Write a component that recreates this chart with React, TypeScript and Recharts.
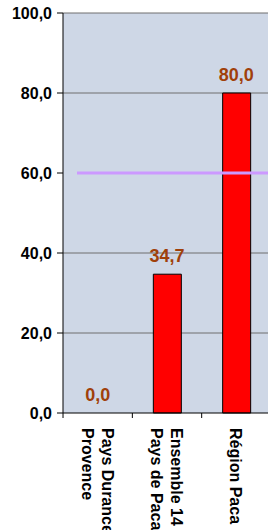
import {
  ComposedChart, Bar, Line, XAxis, YAxis, CartesianGrid, ReferenceLine, LabelList,
} from 'recharts'

const categories = ['Pays Durance\nProvence', 'Ensemble 14\nPays de Paca', 'Région Paca']
const values = [0, 34.7, 80]
const targetValue = 60
const yTicks = [0, 20, 40, 60, 80, 100]
const gridValues = [20, 40, 80, 100]

const data = categories.map((name, i) => ({ name, value: values[i] }))

const FONT = '"Liberation Sans", Arial, sans-serif'
const BAND = 69.3

function fmt(n: number) {
  return n.toFixed(1).replace('.', ',')
}

const CategoryTick = ({ x, y, payload }: { x?: number; y?: number; payload?: { value: string } }) => {
  const lines = String(payload?.value ?? '').split('\n')
  const n = lines.length
  return (
    <g transform={`translate(${x},${y})`}>
      <line x1={-BAND / 2} y1={-8} x2={-BAND / 2} y2={-3} stroke="#000" />
      <text transform="rotate(90)" fontFamily={FONT} fontSize={16} fontWeight="bold" fill="#000">
        {lines.map((l, i) => (
          <tspan key={i} x={7} y={6 + (i - (n - 1) / 2) * 20}>{l}</tspan>
        ))}
      </text>
    </g>
  )
}

const TargetLine = (p: { x1?: number; y1?: number; x2?: number; y2?: number }) => (
  <line x1={(p.x1 ?? 0) + 14} y1={p.y1} x2={p.x2} y2={p.y2} stroke="#CC99FF" strokeWidth={3} />
)

export default function App() {
  return (
    <div style={{ position: 'absolute', left: 0, top: 0, width: 268, height: 530, overflow: 'hidden', background: '#fff' }}>
      <ComposedChart
        width={284}
        height={530}
        data={data}
        margin={{ top: 13, right: 13, left: 0, bottom: 0 }}
        barCategoryGap="30%"
      >
        <CartesianGrid
          fill="#CED7E6"
          stroke="#6E6E6E"
          vertical={false}
          horizontalValues={gridValues}
        />
        <XAxis
          dataKey="name"
          height={117}
          interval={0}
          tickLine={false}
          axisLine={{ stroke: '#000' }}
          tick={<CategoryTick />}
        />
        <YAxis
          width={63}
          domain={[0, 100]}
          ticks={yTicks}
          tickFormatter={fmt}
          tickSize={6}
          tickMargin={5}
          tickLine={{ stroke: '#000' }}
          axisLine={{ stroke: '#000' }}
          tick={{ fill: '#000', fontSize: 16, fontWeight: 'bold', fontFamily: FONT }}
          interval={0}
        />
        <ReferenceLine y={targetValue} shape={<TargetLine />} />
        <Bar dataKey="value" fill="#FF0000" stroke="#000" strokeWidth={1} barSize={28} isAnimationActive={false} />
        {/* invisible series only to carry the value labels, so the 0,0 one shows too */}
        <Line dataKey="value" stroke="none" dot={false} activeDot={false} isAnimationActive={false} legendType="none">
          <LabelList
            dataKey="value"
            position="top"
            offset={12}
            formatter={(v: number) => fmt(v)}
            fill="#A0400A"
            fontSize={18}
            fontWeight="bold"
            fontFamily={FONT}
          />
        </Line>
      </ComposedChart>
    </div>
  )
}
